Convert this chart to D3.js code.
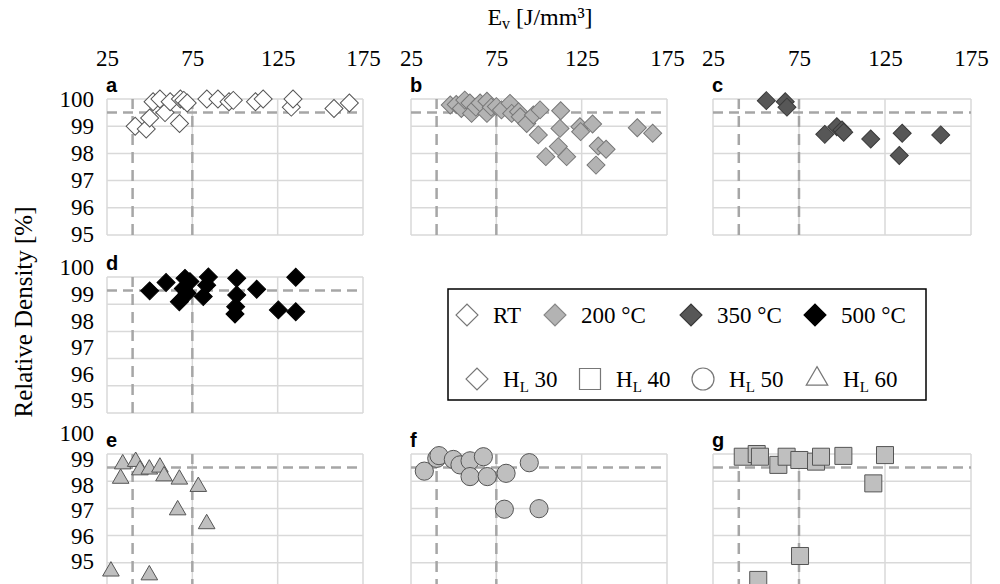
<!DOCTYPE html>
<html>
<head>
<meta charset="utf-8">
<script src="https://cdn.jsdelivr.net/npm/d3@7"></script>
<style>
  body { margin: 0; background: #fff; }
  svg { display: block; }
</style>
</head>
<body>
<svg id="chart" width="1000" height="584"></svg>
<script>
// tick values
var xTicks = [25, 75, 125, 175];
var yTicks = [95, 96, 97, 98, 99, 100];
// reference lines
var refX = [40, 75];
var refY = 99.5;

// [E_v, relative density]
var rtData = [[41.5,99.0],[48,98.9],[50,99.3],[52,99.9],[56,100],[59,99.5],[62,99.9],[67.5,99.1],[68,100],[70,99.95],[72,99.85],[83.5,100],[90,100],[96.5,99.9],[99,99.95],[112,99.9],[116.5,100],[133,99.7],[134,100],[158,99.65],[167,99.85]];
var t200Data = [[48,99.78],[51.5,99.8],[54.5,99.65],[56.5,99.96],[59.5,99.85],[60.5,99.47],[63,99.7],[65.5,99.85],[69.5,99.92],[69.5,99.47],[72,99.7],[75,99.72],[78,99.6],[83,99.84],[84,99.47],[88,99.53],[89,99.35],[92.8,99.1],[96.7,99.41],[100.6,99.6],[99.6,98.68],[104,97.88],[111.3,98.25],[112.3,98.92],[112.7,99.57],[116.2,97.88],[124,98.98],[124.4,98.8],[131.4,99.08],[133.4,97.57],[134.7,98.27],[139.3,98.15],[157.6,98.94],[166.6,98.74]];
var t350Data = [[56,99.94],[67,99.9],[68,99.7],[90,98.7],[97,98.98],[100,98.86],[101,98.78],[116.7,98.53],[133.3,97.92],[135,98.74],[157.4,98.68]];
var t500Data = [[50,99.49],[59.6,99.8],[67.4,99.09],[69.7,99.58],[70.7,99.95],[72,99.4],[73.6,99.83],[81.4,99.28],[83.4,99.7],[84.4,100],[101,99.95],[101,99.34],[100.4,98.91],[100,98.64],[112.7,99.55],[125.4,98.79],[135.6,99.99],[135.6,98.72]];
var hl60Data = [[33,99.1],[34.2,99.63],[41.8,99.72],[44.3,99.41],[49.8,99.44],[56,99.51],[58.4,99.19],[67.4,99.07],[78.5,98.8],[66.4,97.94],[83.4,97.43],[27.3,95.69],[49.8,95.55]];
var hl50Data = [[32.8,99.37],[40.1,99.84],[41.4,99.94],[49.8,99.8],[53.7,99.6],[59.6,99.75],[59.6,99.17],[67.4,99.9],[69.7,99.17],[80.7,99.29],[94.3,99.68],[79.7,97.97],[100,97.99]];
var hl40Data = [[42.3,99.9],[50.4,100],[52.3,99.9],[63,99.6],[67.8,99.9],[75.2,99.78],[84.9,99.72],[87.8,99.9],[100.8,99.93],[118.2,98.92],[125,99.96],[75.6,96.25],[51.3,95.37]];

var SERIF = "'Liberation Serif', 'Times New Roman', Times, serif";
var SANS = "'Liberation Sans', Arial, Helvetica, sans-serif";

var svg = d3.select("#chart");
svg.append("rect").attr("width", 1000).attr("height", 584).attr("fill", "#fff");

var colLeft = [107, 411, 713], colRight = [363, 667, 971];
var rowTop = [99, 277, 454], plotH = 136;
// the y labels of the left column sit a little off the grid in the original
var labelTop = [99, 267, 433], labelBottom = [234, 400, 561];

var styles = {
  rt:   { shape: "diamond", size: 162, fill: "#fff", stroke: "#555" },
  t200: { shape: "diamond", size: 162, fill: "#b3b3b3", stroke: "#777" },
  t350: { shape: "diamond", size: 162, fill: "#575757", stroke: "#3a3a3a" },
  t500: { shape: "diamond", size: 162, fill: "#000", stroke: "#000" },
  hl40: { shape: "square", size: 290, fill: "#bfbfbf", stroke: "#555" },
  hl50: { shape: "circle", size: 260, fill: "#bfbfbf", stroke: "#555" },
  hl60: { shape: "triangle", size: 120, fill: "#bfbfbf", stroke: "#555" }
};

var panels = [
  { key: "a", col: 0, row: 0, data: rtData, style: "rt" },
  { key: "b", col: 1, row: 0, data: t200Data, style: "t200" },
  { key: "c", col: 2, row: 0, data: t350Data, style: "t350" },
  { key: "d", col: 0, row: 1, data: t500Data, style: "t500" },
  { key: "e", col: 0, row: 2, data: hl60Data, style: "hl60" },
  { key: "f", col: 1, row: 2, data: hl50Data, style: "hl50" },
  { key: "g", col: 2, row: 2, data: hl40Data, style: "hl40" }
];

function symbolPath(st) {
  var type = { diamond: d3.symbolSquare, square: d3.symbolSquare, circle: d3.symbolCircle, triangle: d3.symbolTriangle }[st.shape];
  return d3.symbol().type(type).size(st.size)();
}
function symbolRot(st) { return st.shape === "diamond" ? " rotate(45)" : ""; }

panels.forEach(function (p) {
  var x = d3.scaleLinear().domain([25, 175]).range([colLeft[p.col], colRight[p.col]]);
  var y = d3.scaleLinear().domain([95, 100]).range([rowTop[p.row] + plotH, rowTop[p.row]]);
  var g = svg.append("g").attr("class", "panel");

  // grid
  g.append("g").selectAll("line").data(xTicks).enter().append("line")
    .attr("x1", function (d) { return x(d); }).attr("x2", function (d) { return x(d); })
    .attr("y1", y(95)).attr("y2", y(100))
    .attr("stroke", "#d9d9d9").attr("stroke-width", 1.5);
  g.append("g").selectAll("line").data(yTicks).enter().append("line")
    .attr("x1", x(25)).attr("x2", x(175))
    .attr("y1", function (d) { return y(d); }).attr("y2", function (d) { return y(d); })
    .attr("stroke", "#d9d9d9").attr("stroke-width", 1.5);

  // dashed reference lines
  g.append("g").selectAll("line").data(refX).enter().append("line")
    .attr("x1", function (d) { return x(d); }).attr("x2", function (d) { return x(d); })
    .attr("y1", y(95)).attr("y2", y(100))
    .attr("stroke", "#a6a6a6").attr("stroke-width", 2.5).attr("stroke-dasharray", "11,7");
  g.append("line")
    .attr("x1", x(25)).attr("x2", x(175)).attr("y1", y(refY)).attr("y2", y(refY))
    .attr("stroke", "#a6a6a6").attr("stroke-width", 2.5).attr("stroke-dasharray", "10,6");

  // points
  var st = styles[p.style];
  g.append("g").selectAll("path").data(p.data).enter().append("path")
    .attr("d", symbolPath(st))
    .attr("transform", function (d) { return "translate(" + x(d[0]) + "," + y(d[1]) + ")" + symbolRot(st); })
    .attr("fill", st.fill).attr("stroke", st.stroke).attr("stroke-width", 1);

  // panel letter
  svg.append("text").style("font-family", SANS).style("font-weight", "bold").style("font-size", "20px")
    .attr("x", colLeft[p.col] - 1).attr("y", rowTop[p.row] - 7).text(p.key);

  // x tick labels on the top row
  if (p.row === 0) {
    var xa = svg.append("g").attr("transform", "translate(0," + (rowTop[0] - 33) + ")")
      .call(d3.axisTop(x).tickValues(xTicks).tickFormat(d3.format("d")).tickSize(0).tickPadding(0));
    xa.select(".domain").remove();
    xa.selectAll("text").style("font-family", SERIF).style("font-size", "23px").attr("fill", "#000").attr("dy", 0);
  }
  // y tick labels on the left column
  if (p.col === 0) {
    var yl = d3.scaleLinear().domain([95, 100]).range([labelBottom[p.row], labelTop[p.row]]);
    var ya = svg.append("g").attr("transform", "translate(94,0)")
      .call(d3.axisLeft(yl).tickValues(yTicks).tickFormat(d3.format("d")).tickSize(0).tickPadding(0));
    ya.select(".domain").remove();
    ya.selectAll("text").style("font-family", SERIF).style("font-size", "23px").attr("fill", "#000").attr("dy", "0.34em");
  }
});

// axis titles
var title = svg.append("text").style("font-family", SERIF).style("font-size", "24px")
  .attr("x", 540).attr("y", 25).attr("text-anchor", "middle");
title.append("tspan").text("E");
title.append("tspan").style("font-size", "16px").attr("dy", 4).text("v");
title.append("tspan").attr("dy", -4).text(" [J/mm³]");

svg.append("text").style("font-family", SERIF).style("font-size", "25px")
  .attr("transform", "translate(32,312) rotate(-90)")
  .attr("text-anchor", "middle").text("Relative Density [%]");

// legend
var legendRows = [
  [{ s: "rt", x: 467, label: "RT" }, { s: "t200", x: 555, label: "200 °C" }, { s: "t350", x: 691, label: "350 °C" }, { s: "t500", x: 815, label: "500 °C" }],
  [{ s: "hl30", x: 477, label: "30" }, { s: "hl40", x: 590, label: "40" }, { s: "hl50", x: 703, label: "50" }, { s: "hl60", x: 817, label: "60" }]
];
var legendStyle = {
  rt: { shape: "diamond", size: 240, fill: "#fff", stroke: "#777" },
  t200: { shape: "diamond", size: 240, fill: "#b3b3b3", stroke: "#888" },
  t350: { shape: "diamond", size: 240, fill: "#575757", stroke: "#3a3a3a" },
  t500: { shape: "diamond", size: 240, fill: "#000", stroke: "#000" },
  hl30: { shape: "diamond", size: 240, fill: "#fff", stroke: "#777" },
  hl40: { shape: "square", size: 440, fill: "#fff", stroke: "#777" },
  hl50: { shape: "circle", size: 380, fill: "#fff", stroke: "#777" },
  hl60: { shape: "triangle", size: 200, fill: "#fff", stroke: "#777" }
};
var lg = svg.append("g");
lg.append("rect").attr("x", 448).attr("y", 289).attr("width", 478).attr("height", 111)
  .attr("fill", "#fff").attr("stroke", "#000").attr("stroke-width", 1.5);
var rowY = [315, 379];
legendRows.forEach(function (row, ri) {
  row.forEach(function (it) {
    var st = legendStyle[it.s];
    lg.append("path").attr("d", symbolPath(st))
      .attr("transform", "translate(" + it.x + "," + rowY[ri] + ")" + symbolRot(st))
      .attr("fill", st.fill).attr("stroke", st.stroke).attr("stroke-width", 1.2);
    var t = lg.append("text").style("font-family", SERIF).style("font-size", "23px")
      .attr("x", it.x + 26).attr("y", rowY[ri] + 8);
    if (ri === 0) {
      t.text(it.label);
    } else {
      t.append("tspan").text("H");
      t.append("tspan").style("font-size", "15px").attr("dy", 5).text("L");
      t.append("tspan").attr("dy", -5).text(" " + it.label);
    }
  });
});
</script>
</body>
</html>
